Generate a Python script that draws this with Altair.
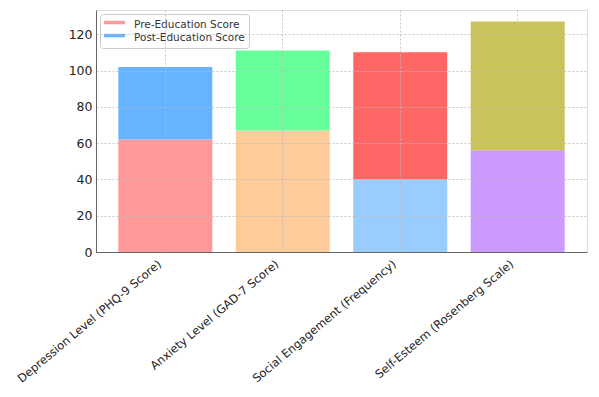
import altair as alt
import pandas as pd

categories = [
    "Depression Level (PHQ-9 Score)",
    "Anxiety Level (GAD-7 Score)",
    "Social Engagement (Frequency)",
    "Self-Esteem (Rosenberg Scale)",
]
pre_scores = [62, 67, 40, 56]
post_scores = [40, 44, 70, 71]
pre_colors = ["#ff9999", "#ffcc99", "#99ccff", "#cc99ff"]
post_colors = ["#66b3ff", "#66ff99", "#ff6666", "#c9c35c"]
series_names = ["Pre-Education Score", "Post-Education Score"]

rows = []
for i, c in enumerate(categories):
    rows.append({"category": c, "series": series_names[0], "order": 0,
                 "start": 0, "end": pre_scores[i], "fill": pre_colors[i]})
    rows.append({"category": c, "series": series_names[1], "order": 1,
                 "start": pre_scores[i], "end": pre_scores[i] + post_scores[i],
                 "fill": post_colors[i]})
df = pd.DataFrame(rows)

font = "DejaVu Sans"

x_enc = alt.X(
    "category:N", sort=categories, title=None,
    scale=alt.Scale(paddingInner=0.2, paddingOuter=0.19),
    axis=alt.Axis(labelAngle=-40, labelAlign="right", labelBaseline="top",
                  labelFontSize=11.5, labelFont=font, labelColor="#222",
                  labelLimit=400, ticks=False, domainColor="#666",
                  grid=True, bandPosition=0.5, labelOffset=-9,
                  gridColor="#bbbbbb", gridDash=[2, 2], gridOpacity=0.8,
                  zindex=1, labelPadding=6),
)
y_scale = alt.Scale(domain=[0, 133.35], nice=False, zero=True)
y_axis = alt.Axis(values=[0, 20, 40, 60, 80, 100, 120], labelFontSize=12.5,
                  labelFont=font, labelColor="#222", ticks=False, grid=True,
                  domainColor="#666", gridColor="#bbbbbb", gridDash=[2, 2],
                  gridOpacity=0.8, zindex=1, labelPadding=4)

bars = alt.Chart(df).mark_bar().encode(
    x=x_enc,
    y=alt.Y("start:Q", scale=y_scale, axis=y_axis, title=None),
    y2="end:Q",
    fill=alt.Fill("fill:N", scale=None),
)

legend_layer = alt.Chart(df).mark_point(opacity=0, filled=True).encode(
    x=alt.X("category:N", sort=categories),
    y=alt.Y("end:Q"),
    color=alt.Color(
        "series:N",
        scale=alt.Scale(domain=series_names, range=[pre_colors[0], post_colors[0]]),
        legend=alt.Legend(
            title=None, orient="none", legendX=4, legendY=4,
            symbolType="M-1,-0.6L2,-0.6L2,-0.1L-1,-0.1Z",
            symbolSize=196, symbolOpacity=1, symbolStrokeWidth=0,
            labelFontSize=10.5, labelFont=font, labelColor="#333",
            fillColor="rgba(255,255,255,0.85)", strokeColor="#cccccc",
            cornerRadius=3, padding=4, rowPadding=0, labelOffset=16,
        ),
    ),
)

chart = alt.layer(bars, legend_layer).properties(
    width=491, height=242,
    autosize=alt.AutoSizeParams(type="none"),
    padding={"left": 88, "top": 2, "right": 4, "bottom": 140},
).configure_view(stroke=None).configure(background="white")

chart.save("out.html", embed_options={"renderer": "svg", "actions": False})
